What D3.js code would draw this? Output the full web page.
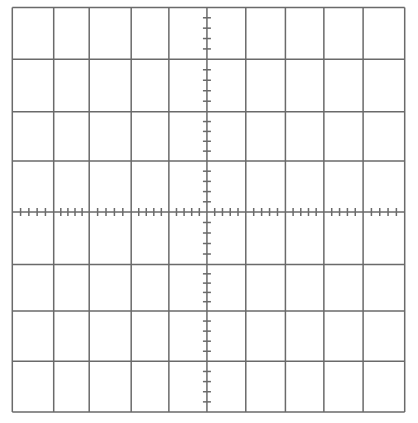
<!DOCTYPE html>
<html>
<head>
<meta charset="utf-8">
<script src="https://cdn.jsdelivr.net/npm/d3@7"></script>
<style>
  html, body { margin: 0; padding: 0; background: #fff; }
  svg { display: block; }
</style>
</head>
<body>
<svg id="chart" width="418" height="423"></svg>
<script>
// Graticule division lines (in division units)
const xDivisions = [-5, -3.945, -3.04, -1.97, -1.01, -0.04, 0.95, 1.96, 2.94, 3.94, 5];
const yDivisions = [4, 2.974, 1.938, 0.963, -0.045, -1.084, -2.003, -2.998, -4];
// Central axes that carry the minor ticks
const xAxisAt = -0.045;   // horizontal centre line (y value)
const yAxisAt = -0.04;    // vertical centre line (x value)
const minorPerDivision = 5;

const svg = d3.select("#chart");
const x = d3.scaleLinear().domain([-5, 5]).range([12.3, 404.7]);
const y = d3.scaleLinear().domain([-4, 4]).range([412, 7.4]);

const stroke = "#6a6a6a";
const sw = 1.5;

// grid
svg.append("g").selectAll("line").data(xDivisions).join("line")
  .attr("x1", d => x(d)).attr("x2", d => x(d))
  .attr("y1", y(4)).attr("y2", y(-4))
  .attr("stroke", stroke).attr("stroke-width", sw);

svg.append("g").selectAll("line").data(yDivisions).join("line")
  .attr("y1", d => y(d)).attr("y2", d => y(d))
  .attr("x1", x(-5)).attr("x2", x(5))
  .attr("stroke", stroke).attr("stroke-width", sw);

// minor ticks: subdivide each division
function minor(divs) {
  const out = [];
  const s = divs.slice().sort((a, b) => a - b);
  for (let i = 0; i < s.length - 1; i++) {
    for (let k = 1; k < minorPerDivision; k++) {
      out.push(s[i] + (s[i + 1] - s[i]) * k / minorPerDivision);
    }
  }
  return out;
}

const tl = 4;
svg.append("g").selectAll("line").data(minor(xDivisions)).join("line")
  .attr("x1", d => x(d)).attr("x2", d => x(d))
  .attr("y1", y(xAxisAt) - tl).attr("y2", y(xAxisAt) + tl)
  .attr("stroke", stroke).attr("stroke-width", sw);

svg.append("g").selectAll("line").data(minor(yDivisions)).join("line")
  .attr("y1", d => y(d)).attr("y2", d => y(d))
  .attr("x1", x(yAxisAt) - tl).attr("x2", x(yAxisAt) + tl)
  .attr("stroke", stroke).attr("stroke-width", sw);
</script>
</body>
</html>
